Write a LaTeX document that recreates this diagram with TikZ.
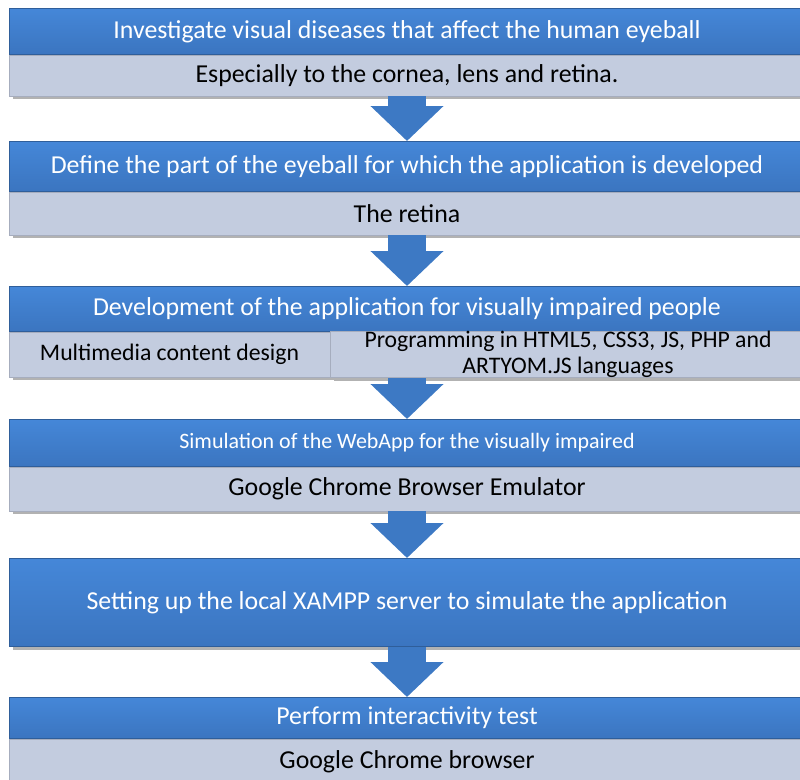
\documentclass[tikz,border=0pt]{standalone}
\usepackage{fontspec}
\setmainfont{Carlito}
\usetikzlibrary{positioning,shadows,arrows.meta}

\definecolor{stepblue}{HTML}{4080D0}
\definecolor{steptop}{HTML}{4587D8}
\definecolor{stepbot}{HTML}{3B75C0}
\definecolor{subgray}{HTML}{C3CCDF}
\definecolor{flowblue}{HTML}{3D79C4}

\tikzset{
  shade/.style={drop shadow={shadow xshift=2pt,shadow yshift=-2pt,fill=black!60,opacity=.5}},
  head/.style={rectangle,anchor=north,inner sep=0pt,minimum width=15.92cm,
    top color=steptop,bottom color=stepbot,draw=stepbot!80!black,line width=.3pt,
    text=white,shade,font=\fontsize{14.7}{18}\selectfont},
  sub/.style={rectangle,inner sep=0pt,minimum width=15.92cm,fill=subgray,
    draw=subgray!85!black,line width=.3pt,text=black,shade,
    font=\fontsize{14.7}{18}\selectfont},
  flow/.style={-{Triangle[width=1.42cm,length=.7cm]},line width=.76cm,draw=flowblue}
}

\begin{document}
\begin{tikzpicture}
\useasboundingbox (0,0) rectangle (16,-15.58);

% steps
\node [head,minimum height=.92cm] (inv) at (8.14,-.16) {Investigate visual diseases that affect the human eyeball};
\node [sub,minimum height=.82cm,below=0pt of inv] (invsub) {Especially to the cornea, lens and retina.};

\node [head,minimum height=1cm] (def) at (8.14,-2.82) {Define the part of the eyeball for which the application is developed};
\node [sub,minimum height=.86cm,below=0pt of def] (defsub) {The retina};

\node [head,minimum height=.9cm] (dev) at (8.14,-5.72) {Development of the application for visually impaired people};
\node [sub,minimum width=6.42cm,minimum height=.9cm,font=\fontsize{13.5}{16}\selectfont,
  below right=0pt and 0pt of dev.south west] (media) {Multimedia content design};
\node [sub,minimum width=9.5cm,minimum height=.9cm,font=\fontsize{13.5}{15}\selectfont,align=center,
  right=0pt of media] (prog) {Programming in HTML5, CSS3, JS, PHP and\\ARTYOM.JS languages};

\node [head,minimum height=.94cm,font=\fontsize{12.5}{16}\selectfont] (sim) at (8.14,-8.38) {Simulation of the WebApp for the visually impaired};
\node [sub,minimum height=.88cm,below=0pt of sim] (simsub) {Google Chrome Browser Emulator};

\node [head,minimum height=1.76cm] (xampp) at (8.14,-11.16) {Setting up the local XAMPP server to simulate the application};

\node [head,minimum height=.82cm] (test) at (8.14,-13.94) {Perform interactivity test};
\node [sub,minimum height=.9cm,below=0pt of test] (testsub) {Google Chrome browser};

% arrows
\draw [flow] (invsub) -- (def);
\draw [flow] (defsub) -- (dev);
\draw [flow] (prog.south -| dev.south) -- (sim);
\draw [flow] (simsub) -- (xampp);
\draw [flow] (xampp) -- (test);

\end{tikzpicture}
\end{document}
